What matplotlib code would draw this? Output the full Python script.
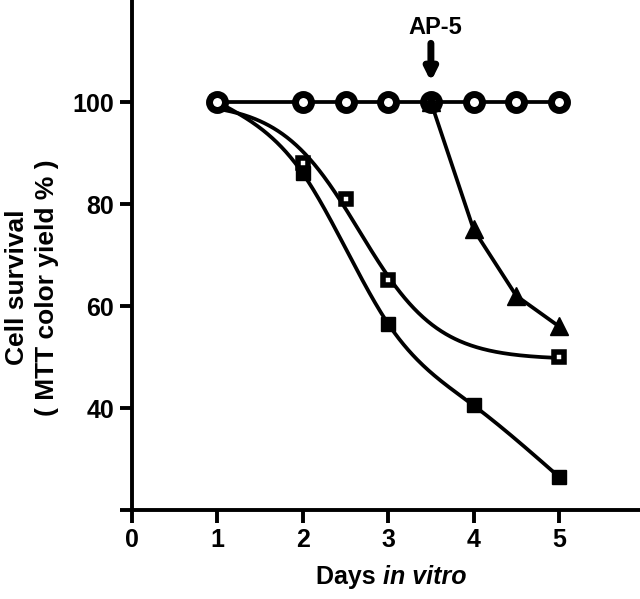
import numpy as np
import matplotlib
matplotlib.use("Agg")
import matplotlib.pyplot as plt

plt.rcParams['font.family'] = ['Liberation Sans', 'DejaVu Sans']
plt.rcParams['font.weight'] = 'bold'

# data (days in vitro, % MTT colour yield)
ctrl_x = [1, 2, 2.5, 3, 3.5, 4, 4.5, 5]
ctrl_y = [100, 100, 100, 100, 100, 100, 100, 100]

filled_x = [1, 2, 3, 4, 5]
filled_y = [100, 86, 56.5, 40.5, 26.5]

open_x = [1, 2, 2.5, 3, 5]
open_y = [100, 88, 81, 65, 50]

tri_x = [3.5, 4, 4.5, 5]
tri_y = [100, 75, 62, 56]

x_ticks = [0, 1, 2, 3, 4, 5]
y_ticks = [20, 40, 60, 80, 100]
y_ticklabels = ['', '40', '60', '80', '100']

FS = 18


def natural_spline(x, y, xs):
    # plain natural cubic spline through the points
    x = np.asarray(x, float)
    y = np.asarray(y, float)
    n = len(x)
    h = np.diff(x)
    A = np.zeros((n, n))
    r = np.zeros(n)
    A[0, 0] = A[-1, -1] = 1
    for i in range(1, n - 1):
        A[i, i - 1] = h[i - 1]
        A[i, i] = 2 * (h[i - 1] + h[i])
        A[i, i + 1] = h[i]
        r[i] = 6 * ((y[i + 1] - y[i]) / h[i] - (y[i] - y[i - 1]) / h[i - 1])
    M = np.linalg.solve(A, r)
    k = np.clip(np.searchsorted(x, xs) - 1, 0, n - 2)
    t0 = x[k + 1] - xs
    t1 = xs - x[k]
    hk = h[k]
    return (M[k] * t0 ** 3 / (6 * hk) + M[k + 1] * t1 ** 3 / (6 * hk)
            + (y[k] / hk - M[k] * hk / 6) * t0
            + (y[k + 1] / hk - M[k + 1] * hk / 6) * t1)


def logistic_fit(x, y, xs):
    # top fixed at 100, grid search for bottom / midpoint / slope
    x = np.asarray(x, float)
    y = np.asarray(y, float)
    best = None
    for b in np.arange(30, 70, 0.5):
        for x0 in np.arange(2, 4.5, 0.02):
            for s in np.arange(0.2, 1.5, 0.02):
                f = b + (100 - b) / (1 + np.exp((x - x0) / s))
                err = np.sum((f - y) ** 2)
                if best is None or err < best[0]:
                    best = (err, b, x0, s)
    _, b, x0, s = best
    return b + (100 - b) / (1 + np.exp((xs - x0) / s))


fig = plt.figure(figsize=(6.4, 5.99), dpi=100)
ax = fig.add_axes([132 / 640, 1 - 510 / 599, 6 * 85.4 / 640, 510 / 599])

xs = np.linspace(1, 5, 300)
ax.plot(xs, natural_spline(filled_x, filled_y, xs), color='black', lw=2.7, zorder=2)
ax.plot(xs, logistic_fit(open_x, open_y, xs), color='black', lw=2.7, zorder=2)
ax.plot(filled_x, filled_y, 's', color='black', ms=10.5, mew=1, zorder=3)
ax.plot(open_x, open_y, 's', mfc='white', mec='black', ms=7, mew=4, zorder=3)

ax.plot(ctrl_x, ctrl_y, '-o', color='black', mfc='white', mec='black',
        ms=11.5, mew=5, lw=2.7, zorder=4)
ax.plot(tri_x, tri_y, '-^', color='black', ms=12.5, lw=2.7, zorder=5)

# AP-5 arrow
ax.annotate('', xy=(3.5, 104), xytext=(3.5, 111.5),
            arrowprops=dict(arrowstyle='-|>,head_width=0.35,head_length=0.7',
                            lw=5, color='black', shrinkA=0, shrinkB=0))
ax.text(3.55, 114.7, 'AP-5', ha='center', va='center', fontsize=17,
        fontweight='bold')

ax.set_xlim(0, 6)
ax.set_ylim(20, 120)
ax.set_xticks(x_ticks)
ax.set_yticks(y_ticks)
ax.set_yticklabels(y_ticklabels)
for s in ['top', 'right']:
    ax.spines[s].set_visible(False)
for s in ['left', 'bottom']:
    ax.spines[s].set_linewidth(2.8)
    ax.spines[s].set_capstyle('butt')
ax.tick_params(axis='both', length=9, width=2.8, labelsize=FS, pad=4)
for lab in ax.get_xticklabels() + ax.get_yticklabels():
    lab.set_fontweight('bold')

# x label: "Days" upright, "in vitro" italic
t1 = fig.text(383 / 640, 1 - 577 / 599, 'Days ', ha='right', va='center',
              fontsize=FS, fontweight='bold')
ax.annotate('in vitro', xy=(1, 0), xycoords=t1, va='bottom', ha='left',
            fontsize=FS, fontweight='bold', fontstyle='italic')

# y label, two lines
fig.text(17 / 640, 0.52, 'Cell survival', rotation=90, ha='center',
         va='center', fontsize=FS + 1, fontweight='bold')
fig.text(47 / 640, 0.52, '( MTT color yield % )', rotation=90, ha='center',
         va='center', fontsize=FS + 1, fontweight='bold')

fig.savefig('out.png', dpi=100)
